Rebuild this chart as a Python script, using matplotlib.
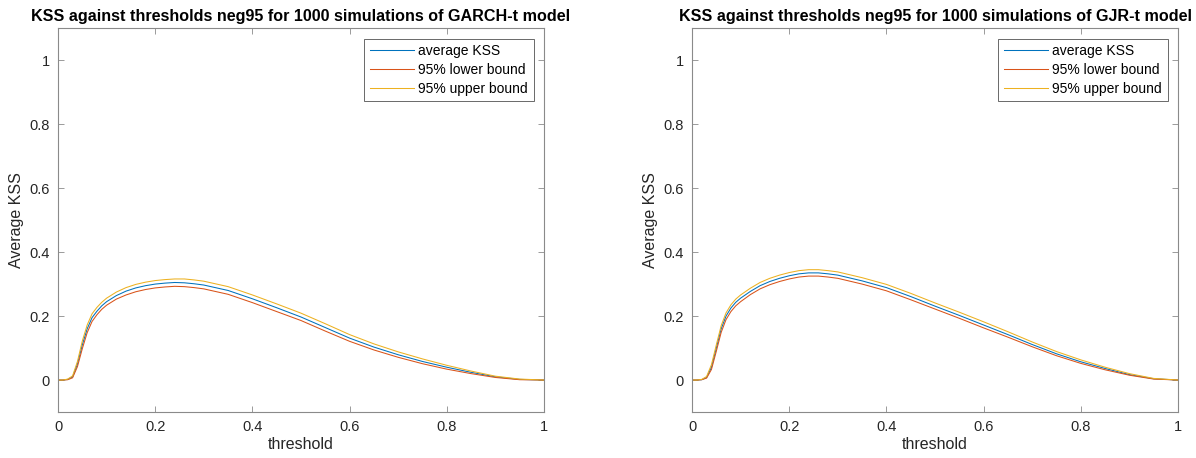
import matplotlib
matplotlib.use("Agg")
import matplotlib.pyplot as plt

plt.rcParams.update({
    "font.family": ["Liberation Sans", "DejaVu Sans"],
    "font.size": 10.5,
    "axes.edgecolor": "#8a8a8a",
    "axes.labelcolor": "#262626",
    "xtick.color": "#8a8a8a", "ytick.color": "#8a8a8a",
    "xtick.labelcolor": "#262626", "ytick.labelcolor": "#262626",
})

BLUE, ORANGE, YELLOW = "#0072BD", "#D95319", "#EDB120"

threshold = [0, 0.01, 0.02, 0.03, 0.04, 0.05, 0.06, 0.07, 0.08, 0.09, 0.10,
             0.12, 0.14, 0.16, 0.18, 0.20, 0.22, 0.24, 0.26, 0.28, 0.30,
             0.35, 0.40, 0.45, 0.50, 0.55, 0.60, 0.65, 0.70, 0.75, 0.80,
             0.85, 0.90, 0.95, 1.00]

# GARCH-t
garch_avg = [0, 0, 0.002, 0.010, 0.050, 0.110, 0.160, 0.195, 0.215, 0.232, 0.245,
             0.264, 0.278, 0.288, 0.295, 0.300, 0.303, 0.305, 0.304, 0.301, 0.297,
             0.280, 0.254, 0.226, 0.197, 0.164, 0.131, 0.103, 0.079, 0.058, 0.040,
             0.024, 0.010, 0.002, 0]
garch_lo = [0, 0, 0.001, 0.007, 0.042, 0.098, 0.148, 0.183, 0.204, 0.221, 0.234,
            0.253, 0.266, 0.276, 0.283, 0.288, 0.291, 0.293, 0.292, 0.289, 0.285,
            0.268, 0.242, 0.214, 0.186, 0.153, 0.121, 0.094, 0.071, 0.051, 0.034,
            0.020, 0.008, 0.001, 0]
garch_hi = [0, 0, 0.003, 0.013, 0.058, 0.122, 0.172, 0.207, 0.227, 0.243, 0.256,
            0.275, 0.289, 0.299, 0.306, 0.311, 0.314, 0.316, 0.316, 0.313, 0.309,
            0.292, 0.266, 0.238, 0.209, 0.176, 0.142, 0.113, 0.088, 0.066, 0.046,
            0.028, 0.012, 0.003, 0]

# GJR-t
gjr_avg = [0, 0, 0.001, 0.008, 0.040, 0.100, 0.160, 0.200, 0.225, 0.243, 0.256,
           0.277, 0.295, 0.308, 0.318, 0.326, 0.332, 0.335, 0.335, 0.332, 0.328,
           0.310, 0.289, 0.261, 0.231, 0.202, 0.172, 0.142, 0.111, 0.082, 0.057,
           0.036, 0.017, 0.004, 0]
gjr_lo = [0, 0, 0.001, 0.006, 0.033, 0.090, 0.149, 0.189, 0.214, 0.232, 0.245,
          0.267, 0.285, 0.298, 0.308, 0.316, 0.322, 0.325, 0.325, 0.322, 0.318,
          0.300, 0.279, 0.251, 0.222, 0.193, 0.163, 0.134, 0.104, 0.076, 0.052,
          0.032, 0.015, 0.003, 0]
gjr_hi = [0, 0, 0.002, 0.011, 0.048, 0.110, 0.170, 0.210, 0.235, 0.253, 0.266,
          0.287, 0.305, 0.318, 0.328, 0.336, 0.342, 0.345, 0.345, 0.342, 0.338,
          0.320, 0.299, 0.271, 0.241, 0.212, 0.182, 0.151, 0.119, 0.089, 0.063,
          0.040, 0.020, 0.005, 0]

panels = [
    ("KSS against thresholds neg95 for 1000 simulations of GARCH-t model",
     garch_avg, garch_lo, garch_hi, 0.0485),
    ("KSS against thresholds neg95 for 1000 simulations of GJR-t model",
     gjr_avg, gjr_lo, gjr_hi, 0.5786),
]

fig = plt.figure(figsize=(11.96, 4.58), dpi=100)
for title, avg, lo, hi, left in panels:
    ax = fig.add_axes([left, 0.1004, 0.4064, 0.838])
    ax.plot(threshold, avg, color=BLUE, lw=0.75, label="average KSS")
    ax.plot(threshold, lo, color=ORANGE, lw=0.75, label="95% lower bound")
    ax.plot(threshold, hi, color=YELLOW, lw=0.75, label="95% upper bound")
    ax.set_xlim(0, 1)
    ax.set_ylim(-0.1, 1.1)
    ax.set_xticks([0, 0.2, 0.4, 0.6, 0.8, 1])
    ax.set_xticklabels(["0", "0.2", "0.4", "0.6", "0.8", "1"])
    ax.set_yticks([0, 0.2, 0.4, 0.6, 0.8, 1])
    ax.set_yticklabels(["0", "0.2", "0.4", "0.6", "0.8", "1"])
    ax.tick_params(direction="in", top=True, right=True, length=4, width=0.6,
                   labelsize=10.5, pad=6)
    for sp in ax.spines.values():
        sp.set_linewidth(0.8)
    ax.set_xlabel("threshold", fontsize=11.5, labelpad=2)
    ax.set_ylabel("Average KSS", fontsize=11.5, labelpad=4)
    ax.set_title(title, fontsize=11.6, fontweight="bold", color="black", pad=5)
    leg = ax.legend(loc="upper right", fontsize=10, fancybox=False,
                    edgecolor="#262626", handlelength=3.2, borderpad=0.4,
                    labelspacing=0.35, borderaxespad=0.75, handletextpad=0.3)
    leg.get_frame().set_linewidth(0.6)

fig.savefig("out.png", dpi=100)
